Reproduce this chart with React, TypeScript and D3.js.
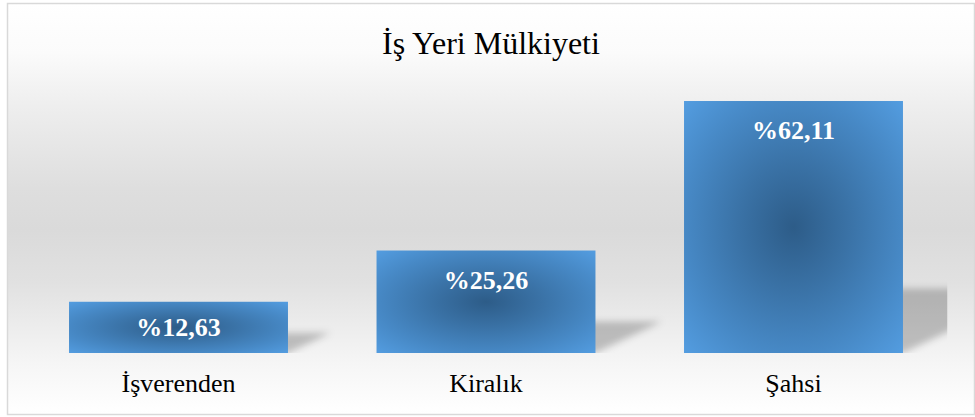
import React from "react";
import * as d3 from "d3";

const title = "İş Yeri Mülkiyeti";
const categories = ["İşverenden", "Kiralık", "Şahsi"];
const values = [12.63, 25.26, 62.11];
const yDomainMax = 70;

const W = 975;
const H = 417;
const FONT = "'Liberation Serif', 'Times New Roman', serif";

export default function App() {
  const plotLeft = 24.75;
  const plotRight = 947.25;
  const plotBottom = 353;
  const plotTop = 69;

  const x = d3
    .scaleBand<string>()
    .domain(categories)
    .range([plotLeft, plotRight])
    .paddingInner(0.288)
    .paddingOuter(0.144);
  const y = d3.scaleLinear().domain([0, yDomainMax]).range([plotBottom, plotTop]);

  const fmt = (v: number) => "%" + v.toFixed(2).replace(".", ",");

  const shadowPath = (c: string, v: number) => {
    const x0 = x(c)!;
    const x1 = x0 + x.bandwidth();
    const h = y(0) - y(v);
    const sh = 0.22 * h + 9;
    const s = 2.1 * sh;
    const p = d3.path();
    p.moveTo(x0, y(0));
    p.lineTo(x1, y(0));
    p.lineTo(x1 + s, y(0) - sh);
    p.lineTo(x0 + s, y(0) - sh);
    p.closePath();
    return p.toString();
  };

  return (
    <div style={{ position: "absolute", left: 0, top: 0 }}>
      <svg width={W} height={H} style={{ display: "block" }}>
        <defs>
          <linearGradient id="bg" x1="0" y1="0" x2="0" y2="1">
            <stop offset="0" stopColor="#ffffff" />
            <stop offset="0.12" stopColor="#fbfbfb" />
            <stop offset="0.25" stopColor="#eeeeee" />
            <stop offset="0.45" stopColor="#dedede" />
            <stop offset="0.55" stopColor="#dadada" />
            <stop offset="0.68" stopColor="#e1e1e1" />
            <stop offset="0.8" stopColor="#eeeeee" />
            <stop offset="0.88" stopColor="#f6f6f6" />
            <stop offset="1" stopColor="#ffffff" />
          </linearGradient>
          <radialGradient id="barFill" cx="0.5" cy="0.5" r="0.72">
            <stop offset="0" stopColor="#2d5c88" />
            <stop offset="0.35" stopColor="#3a72a6" />
            <stop offset="0.7" stopColor="#4789c6" />
            <stop offset="1" stopColor="#549ee2" />
          </radialGradient>
          <filter id="blur" x="-20%" y="-50%" width="140%" height="200%">
            <feGaussianBlur stdDeviation="3.5" />
          </filter>
          <clipPath id="plotClip">
            <rect x={plotLeft} y={plotTop} width={plotRight - plotLeft} height={plotBottom - plotTop} />
          </clipPath>
        </defs>

        <rect x={7.5} y={3.5} width={967} height={411} fill="url(#bg)" stroke="#d9d9d9" strokeWidth={1.5} />

        <text x={491} y={54} textAnchor="middle" fontFamily={FONT} fontSize={32} fill="#000">
          {title}
        </text>

        <g clipPath="url(#plotClip)">
          {categories.map((c, i) => (
            <path key={c} d={shadowPath(c, values[i])} fill="#000" fillOpacity={0.22} filter="url(#blur)" />
          ))}
        </g>

        {categories.map((c, i) => (
          <rect
            key={c}
            x={x(c)!}
            y={y(values[i])}
            width={x.bandwidth()}
            height={y(0) - y(values[i])}
            fill="url(#barFill)"
          />
        ))}

        {categories.map((c, i) => {
          const top = y(values[i]);
          const mid = (top + y(0)) / 2;
          const base = Math.min(top + 38, mid + 9);
          return (
            <text
              key={c}
              x={x(c)! + x.bandwidth() / 2}
              y={base}
              textAnchor="middle"
              fontFamily={FONT}
              fontWeight="bold"
              fontSize={26}
              fill="#ffffff"
            >
              {fmt(values[i])}
            </text>
          );
        })}

        {categories.map((c) => (
          <text
            key={c}
            x={x(c)! + x.bandwidth() / 2}
            y={392}
            textAnchor="middle"
            fontFamily={FONT}
            fontSize={26}
            fill="#000"
          >
            {c}
          </text>
        ))}
      </svg>
    </div>
  );
}
